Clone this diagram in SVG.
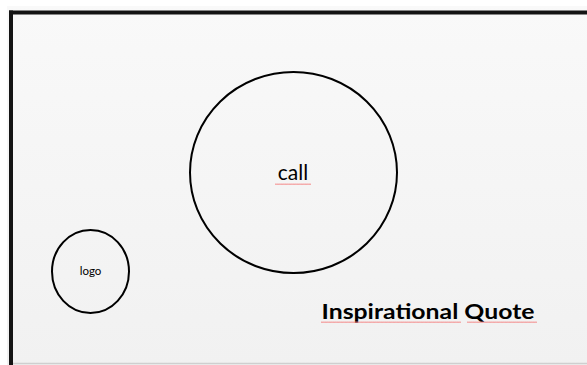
<svg xmlns="http://www.w3.org/2000/svg" width="587" height="365" viewBox="0 0 587 365">
<defs>
<linearGradient id="bg" x1="0" y1="0" x2="0" y2="1">
<stop offset="0" stop-color="#f9f9f9"/>
<stop offset="1" stop-color="#f1f1f1"/>
</linearGradient>
<pattern id="sq" width="4" height="3" patternUnits="userSpaceOnUse">
<path d="M0 2 L1 0.5 L2 2 L3 0.5 L4 2" fill="none" stroke="#f28a8a" stroke-width="0.8"/>
</pattern>
</defs>
<style>
.shape{fill:none;stroke:#000;stroke-width:2}
.t{font-family:Lato,"Open Sans","Liberation Sans",sans-serif;fill:#000;text-anchor:middle}
</style>
<rect width="587" height="365" fill="#ffffff"/>
<rect x="7" y="6" width="580" height="359" fill="url(#bg)"/>
<g id="frame">
<line x1="9" y1="12.5" x2="587" y2="12.5" stroke="#141414" stroke-width="4"/>
<line x1="11" y1="10.5" x2="11" y2="365" stroke="#141414" stroke-width="4"/>
<line x1="13" y1="363.5" x2="587" y2="363.5" stroke="#cfcfcf" stroke-width="1.5"/>
</g>
<g id="call">
<ellipse class="shape" cx="293.5" cy="172.5" rx="103.5" ry="100.5"/>
<text class="t" x="293" y="180" font-size="21">call</text>
<rect x="275" y="182" width="36" height="3" fill="url(#sq)"/>
</g>
<g id="logo">
<ellipse class="shape" cx="90.5" cy="271.5" rx="38.5" ry="41.5"/>
<text class="t" x="90.5" y="275" font-size="11.5">logo</text>
</g>
<g id="quote">
<text class="t" x="428" y="319" font-size="21" font-weight="bold" textLength="213" lengthAdjust="spacingAndGlyphs">Inspirational Quote</text>
<rect x="321" y="321" width="140" height="3" fill="url(#sq)"/>
<rect x="467" y="321" width="70" height="3" fill="url(#sq)"/>
</g>
</svg>
